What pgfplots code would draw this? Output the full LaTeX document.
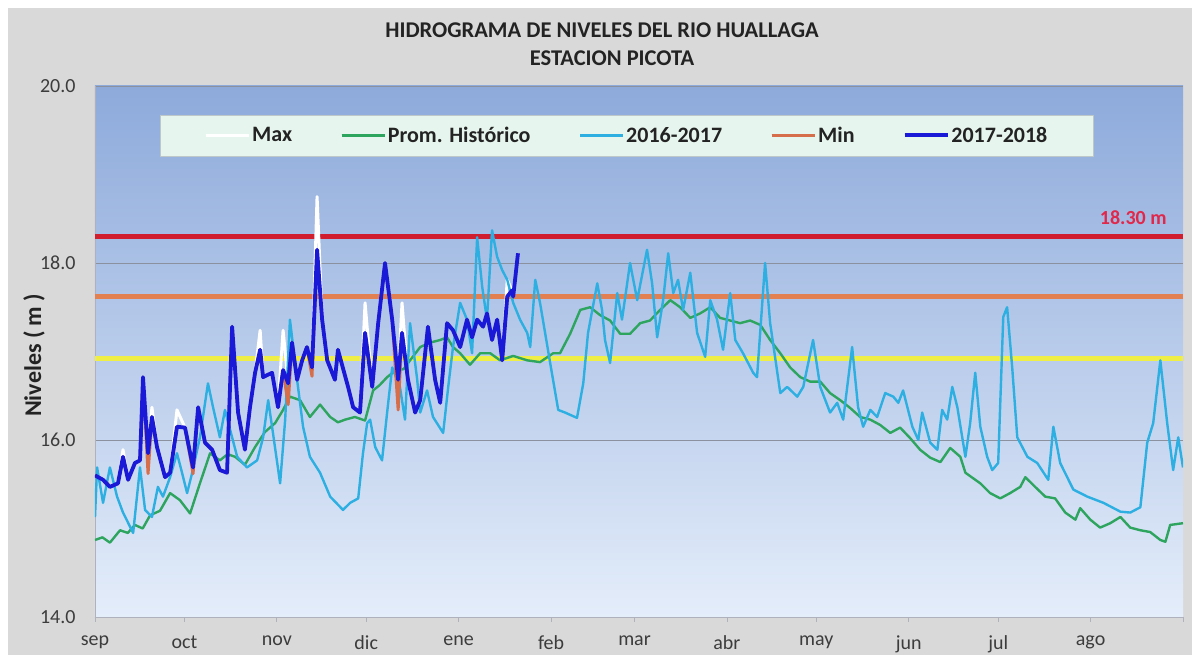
\documentclass[border=0pt]{standalone}
\usepackage{fontspec}
\setmainfont{Carlito}
\usepackage{pgfplots}
\pgfplotsset{compat=1.18}
\definecolor{bgtop}{RGB}{141,170,219}
\definecolor{bgbot}{RGB}{228,237,250}
\definecolor{outergray}{RGB}{217,217,217}
\definecolor{redline}{RGB}{208,30,46}
\definecolor{orangeline}{RGB}{226,128,82}
\definecolor{yellowline}{RGB}{238,238,70}
\definecolor{promc}{RGB}{45,165,95}
\definecolor{c1617}{RGB}{45,175,225}
\definecolor{c1718}{RGB}{25,25,215}
\definecolor{minc}{RGB}{215,110,75}
\definecolor{gridgray}{RGB}{140,145,160}
\definecolor{legendfill}{RGB}{230,246,238}
\definecolor{legenddraw}{RGB}{190,200,200}
\definecolor{titlecol}{RGB}{35,35,35}
\definecolor{tickcol}{RGB}{60,60,60}
\definecolor{redtext}{RGB}{225,40,75}
\begin{document}
\begin{tikzpicture}[x=1pt,y=1pt]
\useasboundingbox (0,0) rectangle (1192,655);
\fill[white] (0,0) rectangle (1192,655);
\fill[outergray] (8,0) rectangle (1192,647);
\node[font=\fontsize{22.5}{27}\selectfont\bfseries, text=titlecol] at (602,625) {HIDROGRAMA DE NIVELES DEL RIO HUALLAGA};
\node[font=\fontsize{22.5}{27}\selectfont\bfseries, text=titlecol] at (612,597) {ESTACION PICOTA};
\begin{axis}[
  at={(95pt,38pt)}, anchor=south west, scale only axis,
  width=1088pt, height=531pt,
  xmin=0, xmax=365, ymin=14, ymax=20,
  axis background/.style={top color=bgtop, bottom color=bgbot},
  axis x line*=bottom, axis y line*=left,
  axis line style={draw=gridgray!70, line width=0.8pt},
  xtick={0,30,61,91,122,153,181,212,242,273,303,334,365},
  xticklabels={sep,oct,nov,dic,ene,feb,mar,abr,may,jun,jul,ago,{}},
  ytick={14,16,18,20},
  yticklabels={14.0,16.0,18.0,20.0},
  ymajorgrids, grid style={draw=gridgray, line width=0.7pt},
  tick align=outside, major tick length=5pt,
  xtick style={draw=gridgray!70, line width=0.8pt},
  ytick style={draw=none},
  tick label style={font=\fontsize{20}{24}\selectfont, text=tickcol},
  xticklabel style={yshift=-10pt},
  yticklabel style={xshift=-11pt},
  ylabel={Niveles ( m )},
  ylabel style={at={(axis description cs:-0.056,0.493)}, anchor=center, font=\fontsize{24}{28}\selectfont\bfseries, text=titlecol},
  legend columns=5,
  legend style={at={(axis description cs:0.0597,0.907)}, anchor=west,
    fill=legendfill, draw=legenddraw, font=\fontsize{22}{26}\selectfont\bfseries,
    text=titlecol, inner xsep=44pt, inner ysep=10pt,
    /tikz/every even column/.append style={column sep=46pt}},
  legend image code/.code={\draw[#1, line width=3pt] (0pt,0pt) -- (35pt,0pt); \path (0pt,0pt) -- (43pt,0pt);},
  no marks, line join=round,
]
\addplot[forget plot, draw=yellowline, line width=5pt] coordinates {(0,16.92) (365,16.92)};
\addplot[forget plot, draw=orangeline, line width=5pt] coordinates {(0,17.62) (365,17.62)};
\addplot[forget plot, draw=redline, line width=5.5pt] coordinates {(0,18.30) (365,18.30)};
% Max
\addplot[draw=white, line width=3pt] coordinates {
(0,15.60)(2.7,15.55)(5,15.47)(7.7,15.51)(9.4,15.89)(11.1,15.55)(13.4,15.74)(15.1,15.77)(16.1,16.71)(17.8,15.85)(19.1,16.37)(20.8,15.92)(23.5,15.58)(25.2,15.63)(27.5,16.34)(30.2,16.14)(32.9,15.69)(34.6,16.37)(36.9,15.97)(39.3,15.89)(41.9,15.66)(44.3,15.63)(46,17.28)(48,16.31)(50.3,15.89)(52,16.37)(53.7,16.76)(55.4,17.24)(56.4,16.71)(59.4,16.76)(61.4,16.37)(63.1,17.24)(64.8,16.64)(66.1,17.10)(67.8,16.68)(69.5,16.90)(71.1,17.05)(72.8,16.82)(74.5,18.75)(76.2,17.36)(77.9,16.90)(80.5,16.68)(81.5,17.02)(84.9,16.60)(86.6,16.37)(88.9,16.31)(90.6,17.55)(93,16.60)(95,17.32)(97.3,18.00)(99.7,17.36)(101.7,16.68)(103,17.55)(105,16.68)(107.4,16.31)(109.1,16.45)(111.7,17.28)(114.1,16.68)(115.8,16.42)(118.1,17.32)(120.1,17.24)(122.5,17.05)(124.8,17.36)(126.5,17.16)(128.2,17.36)(130.2,17.28)(131.5,17.43)(133.2,17.13)(134.9,17.36)(136.6,16.90)(138.3,17.81)(139.9,17.69)(140.3,17.62)(141.9,18.11)};
\addlegendentry{Max}
% Prom. Historico
\addplot[draw=promc, line width=2.4pt] coordinates {
(0,14.87)(2.5,14.90)(5,14.84)(8.4,14.98)(11,14.95)(13.4,15.04)(16,15.00)(18.5,15.15)(21.8,15.20)(25.2,15.40)(28.5,15.32)(31.9,15.17)(35.2,15.51)(38.6,15.85)(41.9,15.77)(44.5,15.84)(47,15.81)(50.3,15.72)(53.7,15.92)(57,16.09)(60.4,16.19)(63.1,16.34)(65.4,16.49)(68.8,16.45)(72.1,16.26)(75.5,16.40)(78.9,16.26)(81.5,16.20)(83.9,16.23)(87.2,16.26)(90.6,16.22)(93.3,16.56)(95.5,16.62)(98,16.71)(101,16.79)(103.5,16.80)(105.7,16.90)(109.1,17.05)(112.4,17.10)(115.8,17.13)(118.1,17.16)(120.1,17.05)(122.5,16.98)(125.8,16.85)(129.2,16.98)(132.6,16.98)(135.9,16.90)(140.3,16.95)(145,16.90)(149.3,16.88)(153.7,16.98)(156,16.98)(159.4,17.20)(162.8,17.47)(166.1,17.50)(169.5,17.41)(172.8,17.35)(176.2,17.20)(179.5,17.20)(182.9,17.32)(186.2,17.35)(189.6,17.47)(193,17.58)(196.3,17.50)(199.7,17.38)(203,17.43)(206.4,17.50)(209.7,17.38)(213.1,17.35)(216.4,17.32)(219.8,17.35)(223.2,17.30)(226.5,17.13)(229.9,16.98)(233.2,16.82)(236.6,16.71)(239.9,16.66)(243.3,16.66)(246.6,16.53)(250,16.45)(253.4,16.36)(256.7,16.26)(260.1,16.23)(263.4,16.17)(266.8,16.08)(270.1,16.14)(273.5,16.02)(276.8,15.89)(280.2,15.80)(283.6,15.75)(286.9,15.91)(290.3,15.81)(292,15.63)(297,15.51)(300.3,15.40)(303.7,15.34)(307,15.40)(310.4,15.47)(312.1,15.58)(315.4,15.47)(318.8,15.36)(322.1,15.34)(325.5,15.18)(328.9,15.10)(330.5,15.23)(333.9,15.10)(337.2,15.01)(340.6,15.06)(344,15.13)(347.3,15.01)(350.7,14.98)(354,14.96)(357.4,14.87)(359.1,14.85)(360.7,15.04)(365,15.06)};
\addlegendentry{Prom. Histórico}
% 2016-2017
\addplot[draw=c1617, line width=2.4pt] coordinates {
(0,15.13)(0.7,15.69)(2.7,15.29)(5,15.69)(7.4,15.36)(9.4,15.18)(12.8,14.95)(15.1,15.69)(16.8,15.21)(19.1,15.13)(21.1,15.47)(22.8,15.36)(25.2,15.58)(27.5,15.85)(29.2,15.63)(30.9,15.40)(32.6,15.63)(35.2,16.03)(37.9,16.64)(39.6,16.37)(41.9,16.03)(43.6,16.34)(47.7,15.81)(51,15.69)(54.4,15.77)(56.4,16.03)(58.1,16.45)(59.7,16.08)(62.1,15.51)(63.8,16.23)(65.4,17.36)(67.8,16.68)(69.8,16.15)(72.1,15.81)(75.5,15.63)(78.9,15.36)(83.2,15.21)(85.6,15.29)(88.3,15.34)(89.9,15.85)(91.3,16.19)(92.3,16.23)(94,15.92)(96.3,15.77)(98,16.31)(99.7,16.82)(102.3,16.60)(104,16.23)(105.7,17.32)(108.1,16.68)(109.1,16.31)(111.4,16.56)(113.4,16.26)(116.8,16.08)(118.5,16.60)(120.1,17.05)(122.5,17.55)(124.8,17.36)(126.5,16.98)(128.2,18.29)(129.9,17.73)(131.5,17.36)(133.2,18.37)(134.9,18.07)(136.6,17.92)(138.3,17.81)(140.3,17.55)(142.6,17.36)(145,17.21)(146,17.05)(147.7,17.81)(149.3,17.55)(152.7,16.87)(155.4,16.34)(157.7,16.31)(161.7,16.25)(163.8,16.64)(165.4,17.21)(168.5,17.77)(170.1,17.47)(171.1,17.13)(172.8,16.87)(175.2,17.66)(176.8,17.36)(179.5,18.00)(181.9,17.58)(185.2,18.15)(186.9,17.77)(188.6,17.16)(190.6,17.58)(192.3,18.11)(194,17.66)(195.6,17.81)(197.3,17.47)(199.7,17.89)(202,17.21)(204.7,16.94)(206.4,17.58)(208.7,17.36)(210.7,17.02)(213.1,17.66)(214.8,17.13)(217.4,16.98)(220.8,16.76)(222.1,16.71)(224.8,18.00)(226.5,17.32)(229.9,16.53)(232.2,16.60)(235.6,16.49)(237.6,16.60)(240.9,17.13)(243.3,16.60)(246.6,16.31)(249,16.42)(251,16.23)(254,17.05)(256,16.37)(257.7,16.15)(260.1,16.34)(262.4,16.26)(265.1,16.53)(267.8,16.49)(269.5,16.42)(271.1,16.56)(274.2,16.15)(276.2,16.00)(277.5,16.31)(280.2,15.97)(282.6,15.89)(284.2,16.34)(285.9,16.23)(287.6,16.60)(289.3,16.37)(292,15.81)(293.6,16.19)(295.3,16.76)(297,16.15)(299.3,15.81)(301,15.66)(303,15.74)(304.7,17.39)(306,17.50)(307.7,16.82)(309.4,16.03)(312.8,15.81)(316.1,15.74)(319.8,15.55)(321.5,16.15)(323.8,15.74)(328.2,15.44)(332.9,15.36)(338.3,15.29)(344,15.19)(347.3,15.18)(350.7,15.24)(353,15.97)(355,16.19)(357.4,16.90)(359.7,16.19)(361.7,15.66)(363.4,16.03)(365,15.69)};
\addlegendentry{2016-2017}
% Min
\addplot[draw=minc, line width=3pt] coordinates {
(0,15.60)(2.7,15.55)(5,15.47)(7.7,15.51)(9.4,15.81)(11.1,15.55)(13.4,15.74)(15.1,15.77)(16.1,16.71)(17.8,15.62)(19.1,16.26)(20.8,15.92)(23.5,15.58)(25.2,15.63)(27.5,16.15)(30.2,16.14)(32.9,15.62)(34.6,16.37)(36.9,15.97)(39.3,15.89)(41.9,15.66)(44.3,15.63)(46,17.28)(48,16.31)(50.3,15.89)(52,16.37)(53.7,16.76)(55.4,17.02)(56.4,16.71)(59.4,16.76)(61.4,16.37)(63.1,16.79)(64.8,16.40)(66.1,17.10)(67.8,16.68)(69.5,16.90)(71.1,17.05)(72.8,16.72)(74.5,18.11)(76.2,17.36)(77.9,16.90)(80.5,16.68)(81.5,17.02)(84.9,16.60)(86.6,16.37)(88.9,16.31)(90.6,17.21)(93,16.60)(95,17.32)(97.3,18.00)(99.7,17.36)(101.7,16.34)(103,17.21)(105,16.68)(107.4,16.31)(109.1,16.45)(111.7,17.28)(114.1,16.68)(115.8,16.42)(118.1,17.32)(120.1,17.24)(122.5,17.05)(124.8,17.36)(126.5,17.16)(128.2,17.36)(130.2,17.28)(131.5,17.43)(133.2,17.13)(134.9,17.36)(136.6,16.90)(138.3,17.62)(139.9,17.69)(140.3,17.62)(141.9,18.11)};
\addlegendentry{Min}
% 2017-2018
\addplot[draw=c1718, line width=3.8pt] coordinates {
(0,15.60)(2.7,15.55)(5,15.47)(7.7,15.51)(9.4,15.81)(11.1,15.55)(13.4,15.74)(15.1,15.77)(16.1,16.71)(17.8,15.85)(19.1,16.26)(20.8,15.92)(23.5,15.58)(25.2,15.63)(27.5,16.15)(30.2,16.14)(32.9,15.69)(34.6,16.37)(36.9,15.97)(39.3,15.89)(41.9,15.66)(44.3,15.63)(46,17.28)(48,16.31)(50.3,15.89)(52,16.37)(53.7,16.76)(55.4,17.02)(56.4,16.71)(59.4,16.76)(61.4,16.37)(63.1,16.79)(64.8,16.64)(66.1,17.10)(67.8,16.68)(69.5,16.90)(71.1,17.05)(72.8,16.82)(74.5,18.15)(76.2,17.36)(77.9,16.90)(80.5,16.68)(81.5,17.02)(84.9,16.60)(86.6,16.37)(88.9,16.31)(90.6,17.21)(93,16.60)(95,17.32)(97.3,18.00)(99.7,17.36)(101.7,16.68)(103,17.21)(105,16.68)(107.4,16.31)(109.1,16.45)(111.7,17.28)(114.1,16.68)(115.8,16.42)(118.1,17.32)(120.1,17.24)(122.5,17.05)(124.8,17.36)(126.5,17.16)(128.2,17.36)(130.2,17.28)(131.5,17.43)(133.2,17.13)(134.9,17.36)(136.6,16.90)(138.3,17.62)(139.9,17.69)(140.3,17.62)(141.9,18.11)};
\addlegendentry{2017-2018}
\node[text=redtext, font=\fontsize{20}{24}\selectfont\bfseries] at (axis cs:348.3,18.51) {18.30 m};
\end{axis}
\end{tikzpicture}
\end{document}
